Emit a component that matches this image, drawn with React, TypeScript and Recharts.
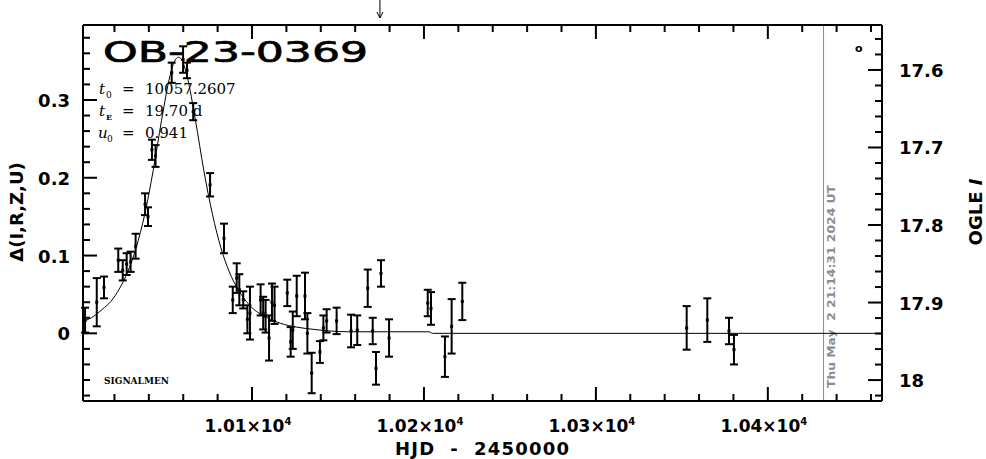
import React from 'react'
import {
  ComposedChart, Line, Scatter, ErrorBar, XAxis, YAxis,
  ReferenceLine, ReferenceDot, Customized,
} from 'recharts'

// observations: HJD-2450000, delta flux, error
const obsT = [
  10002.9, 10009.7, 10013.9, 10022.2, 10024.8, 10027.1, 10029.4, 10032.3, 10037.8, 10039.5,
  10041.8, 10043.9, 10053.3, 10059.9, 10062.2, 10065.8, 10075.6, 10083.7, 10088.8, 10091.1,
  10092.6, 10094.9, 10097.3, 10098.8, 10105.0, 10106.5, 10107.9, 10109.9, 10111.6, 10113.1,
  10120.5, 10122.5, 10123.7, 10126.0, 10130.8, 10132.2, 10134.7, 10139.5, 10141.5, 10143.4,
  10149.2, 10157.6, 10161.2, 10167.3, 10170.2, 10172.1, 10175.0, 10179.7, 10202.2, 10204.1,
  10212.2, 10216.1, 10222.3, 10352.8, 10364.8, 10377.4, 10380.3,
]
const obsD = [
  0.017, 0.040, 0.059, 0.094, 0.081, 0.089, 0.092, 0.112, 0.166, 0.150,
  0.236, 0.228, 0.335, 0.352, 0.338, 0.285, 0.191, 0.122, 0.043, 0.071,
  0.056, 0.043, 0.018, 0.026, 0.043, 0.026, 0.022, -0.006, 0.040, 0.036,
  0.052, -0.011, 0.004, 0.048, 0.048, 0.000, -0.051, -0.024, 0.007, 0.016,
  0.016, 0.003, 0.004, 0.058, 0.003, -0.045, 0.077, -0.006, 0.039, 0.032,
  -0.030, 0.009, 0.041, 0.007, 0.017, 0.003, -0.021,
]
const obsE = [
  0.016, 0.031, 0.014, 0.015, 0.013, 0.014, 0.013, 0.016, 0.014, 0.012,
  0.013, 0.014, 0.013, 0.017, 0.010, 0.011, 0.015, 0.019, 0.017, 0.019,
  0.020, 0.011, 0.018, 0.034, 0.020, 0.021, 0.021, 0.029, 0.024, 0.024,
  0.017, 0.019, 0.024, 0.026, 0.030, 0.026, 0.026, 0.014, 0.016, 0.015,
  0.017, 0.021, 0.019, 0.024, 0.017, 0.021, 0.017, 0.024, 0.017, 0.021,
  0.026, 0.035, 0.024, 0.028, 0.028, 0.017, 0.019,
]

// model curve
const modelT = [
  10001.7, 10008.0, 10013.0, 10017.9, 10022.8, 10027.7, 10032.6, 10037.6, 10042.5, 10047.4,
  10052.3, 10054.8, 10057.3, 10059.7, 10062.2, 10067.1, 10072.0, 10077.0, 10081.9, 10086.8,
  10091.7, 10096.7, 10101.5, 10106.5, 10116.4, 10126.0, 10136.1, 10155.8, 10180.0, 10203.0,
  10205.0, 10466.4,
]
const modelD = [
  0.015, 0.022, 0.031, 0.041, 0.057, 0.079, 0.110, 0.153, 0.209, 0.274,
  0.331, 0.349, 0.355, 0.349, 0.331, 0.274, 0.209, 0.153, 0.110, 0.079,
  0.057, 0.041, 0.030, 0.023, 0.013, 0.008, 0.005, 0.002, 0.002, 0.002,
  0.000, 0.000,
]

const xTicks = [
  10020, 10040, 10060, 10080, 10100, 10120, 10140, 10160, 10180, 10200, 10220, 10240,
  10260, 10280, 10300, 10320, 10340, 10360, 10380, 10400, 10420, 10440, 10460,
]
const xMajor = [10100, 10200, 10300, 10400]
const xMajorLabels = ['1.01', '1.02', '1.03', '1.04']

const yTicks = [
  -0.08, -0.06, -0.04, -0.02, 0, 0.02, 0.04, 0.06, 0.08, 0.1, 0.12, 0.14,
  0.16, 0.18, 0.2, 0.22, 0.24, 0.26, 0.28, 0.3, 0.32, 0.34, 0.36, 0.38,
]
const yMajor = [0, 0.1, 0.2, 0.3]
const yMajorLabels = ['0', '0.1', '0.2', '0.3']

const magTicks = [
  17.56, 17.58, 17.6, 17.62, 17.64, 17.66, 17.68, 17.7, 17.72, 17.74, 17.76, 17.78,
  17.8, 17.82, 17.84, 17.86, 17.88, 17.9, 17.92, 17.94, 17.96, 17.98, 18, 18.02,
]
const magMajor = [17.6, 17.7, 17.8, 17.9, 18]
const magMajorLabels = ['17.6', '17.7', '17.8', '17.9', '18']

const todayHJD = 10432.4
const arrowHJD = 10174.4

const obs = obsT.map((t, i) => ({ t, d: obsD[i], e: obsE[i] }))
const model = modelT.map((t, i) => ({ t, d: modelD[i] }))

const SANS = '"DejaVu Sans", sans-serif'
const SERIF = '"DejaVu Serif", serif'

function majorIndex(list: number[], v: number) {
  return list.findIndex((m) => Math.abs(m - v) < 1e-6)
}

function BottomTick(p: any) {
  const i = majorIndex(xMajor, p.payload.value)
  return (
    <g>
      <line x1={p.x} x2={p.x} y1={p.y} y2={p.y - (i >= 0 ? 14 : 7)} stroke="#000" strokeWidth={2} />
      {i >= 0 && (
        <text x={p.x - 4} y={p.y + 31} textAnchor="middle" fontFamily={SANS} fontWeight="bold" fontSize={17} fill="#000">
          {xMajorLabels[i]}×10<tspan dy={-7} fontSize={10}>4</tspan>
        </text>
      )}
    </g>
  )
}

function TopTick(p: any) {
  const i = majorIndex(xMajor, p.payload.value)
  return <line x1={p.x} x2={p.x} y1={p.y} y2={p.y + (i >= 0 ? 14 : 7)} stroke="#000" strokeWidth={2} />
}

function LeftTick(p: any) {
  const i = majorIndex(yMajor, p.payload.value)
  return (
    <g>
      <line x1={p.x} x2={p.x + (i >= 0 ? 14 : 7)} y1={p.y} y2={p.y} stroke="#000" strokeWidth={2} />
      {i >= 0 && (
        <text x={p.x - 13} y={p.y + 7} textAnchor="end" fontFamily={SANS} fontWeight="bold" fontSize={18} fill="#000">
          {yMajorLabels[i]}
        </text>
      )}
    </g>
  )
}

function RightTick(p: any) {
  const i = majorIndex(magMajor, p.payload.value)
  return (
    <g>
      <line x1={p.x} x2={p.x - (i >= 0 ? 14 : 7)} y1={p.y} y2={p.y} stroke="#000" strokeWidth={2} />
      {i >= 0 && (
        <text x={p.x + 17} y={p.y + 7} textAnchor="start" fontFamily={SANS} fontWeight="bold" fontSize={18} fill="#000">
          {magMajorLabels[i]}
        </text>
      )}
    </g>
  )
}

const Dot = (p: any) => <rect x={p.cx - 1.5} y={p.cy - 1.5} width={3} height={3} fill="#000" />

const Arrow = (p: any) => (
  <g stroke="#000" strokeWidth={1} fill="none">
    <line x1={p.cx} x2={p.cx} y1={p.cy - 25} y2={p.cy - 7} />
    <polyline points={`${p.cx - 3},${p.cy - 13} ${p.cx},${p.cy - 7} ${p.cx + 3},${p.cy - 13}`} />
  </g>
)

function DateLabel(p: any) {
  const vb = p.viewBox || {}
  const x = vb.x
  const bottom = Math.max(vb.y, vb.y + vb.height)
  return (
    <text
      x={x + 11} y={bottom - 13} transform={`rotate(-90 ${x + 11} ${bottom - 13})`}
      fontFamily={SANS} fontWeight="bold" fontSize={11} fill="#8c8c8c" style={{ whiteSpace: 'pre' }}
      textLength={203} lengthAdjust="spacingAndGlyphs"
    >
      Thu May  2 21:14:31 2024 UT
    </text>
  )
}

function Annotations() {
  return (
    <g>
      <text
        x={103} y={62} fontFamily={SANS} fontSize={29} textLength={265} lengthAdjust="spacingAndGlyphs"
        fill="#000" stroke="#000" strokeWidth={0.7}
      >
        OB-23-0369
      </text>
      <g fontFamily={SERIF} fontSize={15} fill="#000">
        <text x={99} y={94} fontStyle="italic">t</text>
        <text x={106} y={98} fontSize={9}>0</text>
        <text x={122} y={94}>=</text>
        <text x={145} y={94}>10057.2607</text>
        <text x={99} y={116} fontStyle="italic">t</text>
        <text x={106} y={120} fontSize={8} fontWeight="bold">E</text>
        <text x={122} y={116}>=</text>
        <text x={145} y={116}>19.70 d</text>
        <text x={98} y={138} fontStyle="italic">u</text>
        <text x={107} y={142} fontSize={9}>0</text>
        <text x={122} y={138}>=</text>
        <text x={145} y={138}>0.941</text>
      </g>
      <text x={104} y={384} fontFamily={SERIF} fontWeight="bold" fontSize={9} fill="#000">SIGNALMEN</text>
      <text x={855} y={52} fontFamily={SANS} fontWeight="bold" fontSize={11} fill="#000">o</text>
      <text
        x={482} y={455} textAnchor="middle" fontFamily={SANS} fontWeight="bold" fontSize={18} fill="#000"
        style={{ whiteSpace: 'pre' }} textLength={174} lengthAdjust="spacing"
      >
        HJD  -  2450000
      </text>
      <text x={23} y={212} transform="rotate(-90 23 212)" textAnchor="middle" fontFamily={SANS} fontWeight="bold" fontSize={18} fill="#000">
        Δ(I,R,Z,U)
      </text>
      <text x={982} y={212} transform="rotate(-90 982 212)" textAnchor="middle" fontFamily={SANS} fontWeight="bold" fontSize={18} fill="#000">
        OGLE <tspan fontStyle="italic">I</tspan>
      </text>
    </g>
  )
}

export default function App() {
  return (
    <div style={{ width: 986, height: 459, background: '#fff' }}>
      <style>{'body{margin:0;background:#fff}'}</style>
      <ComposedChart
        width={986}
        height={459}
        data={obs}
        margin={{ top: 24, right: 103, bottom: 57, left: 82 }}
        style={{ overflow: 'visible' }}
      >
        <XAxis
          xAxisId="b" dataKey="t" type="number" domain={[10001.7, 10466.4]} allowDataOverflow
          ticks={xTicks} interval={0} tick={<BottomTick />} tickSize={0} tickMargin={0} height={1}
          axisLine={{ stroke: '#000', strokeWidth: 2 }} tickLine={false}
        />
        <XAxis
          xAxisId="t" orientation="top" dataKey="t" type="number" domain={[10001.7, 10466.4]} allowDataOverflow
          ticks={xTicks} interval={0} tick={<TopTick />} tickSize={0} tickMargin={0} height={1}
          axisLine={{ stroke: '#000', strokeWidth: 2 }} tickLine={false}
        />
        <YAxis
          yAxisId="l" type="number" domain={[-0.087, 0.3964]} allowDataOverflow
          ticks={yTicks} interval={0} tick={<LeftTick />} tickSize={0} tickMargin={0} width={1}
          axisLine={{ stroke: '#000', strokeWidth: 2 }} tickLine={false}
        />
        <YAxis
          yAxisId="r" orientation="right" type="number" domain={[17.542, 18.027]} reversed allowDataOverflow
          ticks={magTicks} interval={0} tick={<RightTick />} tickSize={0} tickMargin={0} width={1}
          axisLine={{ stroke: '#000', strokeWidth: 2 }} tickLine={false}
        />
        <ReferenceLine
          x={todayHJD} xAxisId="b" yAxisId="l" stroke="#8c8c8c" strokeWidth={1}
          label={(p: any) => <DateLabel {...p} />}
        />
        <Line
          data={model} xAxisId="b" yAxisId="l" dataKey="d" type="monotone"
          dot={false} stroke="#000" strokeWidth={1} isAnimationActive={false}
        />
        <Scatter xAxisId="b" yAxisId="l" dataKey="d" shape={Dot} isAnimationActive={false}>
          <ErrorBar dataKey="e" direction="y" width={4} stroke="#000" strokeWidth={2} isAnimationActive={false} />
        </Scatter>
        <ReferenceDot
          x={arrowHJD} y={0.3964} xAxisId="b" yAxisId="l" ifOverflow="visible" shape={Arrow}
        />
        <Customized component={Annotations} />
      </ComposedChart>
    </div>
  )
}
